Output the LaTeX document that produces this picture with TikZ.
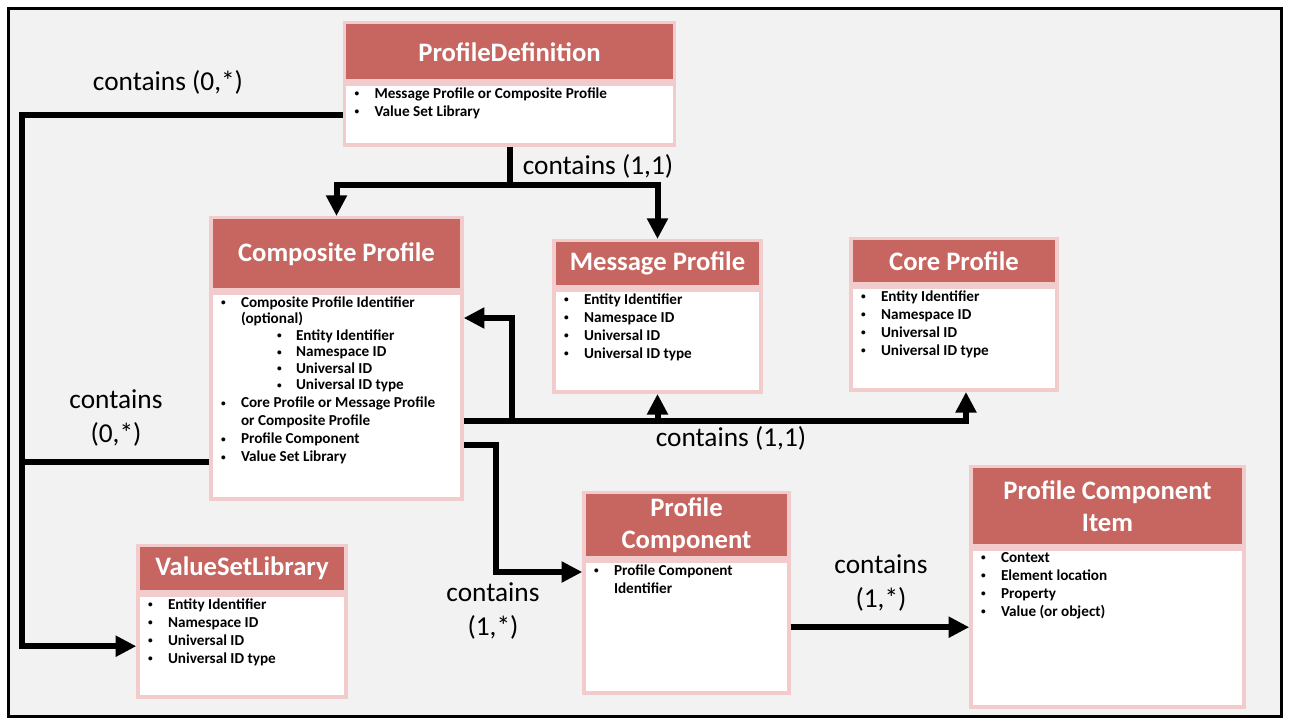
\documentclass[tikz,border=0pt]{standalone}
\usepackage{fontspec}
\setmainfont{Carlito}
\usepackage{enumitem}
\usetikzlibrary{arrows.meta}

\newdimen\unitpx \unitpx=0.75pt
\newcommand{\smallbullet}{\raisebox{0.12em}{\fontsize{7}{7}\selectfont\textbullet}}
\setlist[itemize,1]{label=\smallbullet,leftmargin=30\unitpx,labelwidth=20\unitpx,labelsep=0pt,align=left,nosep}
\setlist[itemize,2]{label=\smallbullet,leftmargin=55\unitpx,labelwidth=19\unitpx,labelsep=0pt,align=left,nosep,before=\fontsize{11.4}{12.4}\selectfont}
% body of a box: width, height (px), items
\newcommand{\boxbody}[3]{\parbox[c][#2\unitpx][t]{#1\unitpx}{\raggedright\vspace*{2.5pt}\begin{itemize}#3\end{itemize}}}

\tikzset{every picture/.style={line width=0.75pt}}

\begin{document}
\begin{tikzpicture}[x=0.75pt,y=0.75pt,yscale=-1,xscale=1,
  hdr/.style={draw={rgb, 255:red, 242; green, 204; blue, 204 }, fill={rgb, 255:red, 199; green, 101; blue, 96 }, line width=2.6pt, text=white, font=\bfseries\fontsize{20}{24.5}\selectfont, align=center, inner sep=0pt, anchor=north},
  bdy/.style={draw={rgb, 255:red, 242; green, 204; blue, 204 }, fill=white, line width=2.6pt, inner sep=0pt, anchor=north, font=\bfseries\fontsize{11.4}{13.5}\selectfont},
  conn/.style={line width=4.5pt},
  arr/.style={conn, -{Triangle[width=15pt,length=15.5pt]}},
  lbl/.style={font=\fontsize{20.5}{25.5}\selectfont, align=center, inner sep=0pt}]
\useasboundingbox (0,0) rectangle (1290,725);

%Shape: Rectangle (frame)
\draw [line width=2.25pt, fill={rgb, 255:red, 242; green, 242; blue, 242 }] (8.5,8.5) rectangle (1281.5,716.5);

%Shape: ProfileDefinition
\node [hdr, minimum width=330*\unitpx, minimum height=58*\unitpx] (pdh) at (509.5,21) {ProfileDefinition};
\node [bdy] (pdb) at (pdh.south) {\boxbody{330}{61}{\item Message Profile or Composite Profile \item Value Set Library}};
%Shape: Composite Profile
\node [hdr, minimum width=251*\unitpx, minimum height=72*\unitpx] (cph) at (336.5,216) {Composite Profile};
\node [bdy] (cpb) at (cph.south) {\boxbody{251}{206}{\item Composite Profile Identifier\newline (optional)
  \begin{itemize}\item Entity Identifier \item Namespace ID \item Universal ID \item Universal ID type\end{itemize}
  \item Core Profile or Message Profile\newline or Composite Profile
  \item Profile Component
  \item Value Set Library}};
%Shape: Message Profile
\node [hdr, minimum width=207*\unitpx, minimum height=46*\unitpx] (mph) at (657.5,239) {Message Profile};
\node [bdy] (mpb) at (mph.south) {\boxbody{207}{102}{\item Entity Identifier \item Namespace ID \item Universal ID \item Universal ID type}};
%Shape: Core Profile
\node [hdr, minimum width=206*\unitpx, minimum height=45*\unitpx] (coreh) at (954,237) {Core Profile};
\node [bdy] (coreb) at (coreh.south) {\boxbody{206}{103}{\item Entity Identifier \item Namespace ID \item Universal ID \item Universal ID type}};
%Shape: ValueSetLibrary
\node [hdr, minimum width=208*\unitpx, minimum height=46*\unitpx] (vslh) at (242,544) {ValueSetLibrary};
\node [bdy] (vslb) at (vslh.south) {\boxbody{208}{102}{\item Entity Identifier \item Namespace ID \item Universal ID \item Universal ID type}};
%Shape: Profile Component
\node [hdr, minimum width=205*\unitpx, minimum height=65*\unitpx] (pch) at (686.5,491) {Profile\\Component};
\node [bdy] (pcb) at (pch.south) {\boxbody{205}{132}{\item Profile Component\newline Identifier}};
%Shape: Profile Component Item
\node [hdr, minimum width=273*\unitpx, minimum height=79*\unitpx] (pcih) at (1107.5,465) {Profile Component\\Item};
\node [bdy] (pcib) at (pcih.south) {\boxbody{273}{158}{\item Context \item Element location \item Property \item Value (or object)}};

% bends
\coordinate (lft) at (22,110);
\coordinate (jt) at (509.5,185);
\coordinate (jd) at (512,421);
\coordinate (je) at (496,572);

%Straight Lines
\draw [arr] (pdb.west) -| (lft |- vslb.west) -- (vslb.west);
\draw [conn] (cpb.west |- 0,462) -- (lft |- 0,462);
\draw [conn] (pdb.south) -- (jt);
\draw [arr] (jt) -| (cph.north);
\draw [arr] (jt) -| (mph.north);
\draw [arr] (cpb.east |- jd) -| (coreb.south -| 966,0);
\draw [arr] (mpb.south |- jd) -- (mpb.south);
\draw [arr] (jd) |- (cpb.east |- 0,318);
\draw [arr] (cpb.east |- 0,445) -| (je) -- (pcb.west |- je);
\draw [arr] (pcb.east) -- (pcib.west |- pcb.east);

% Text Node
\node [lbl] (l1) at (168,82) {contains (0,*)};
% Text Node
\node [lbl] (l2) at (116,418) {contains\\(0,*)};
% Text Node
\node [lbl] (l3) at (598,166) {contains (1,1)};
% Text Node
\node [lbl] (l4) at (731,438) {contains (1,1)};
% Text Node
\node [lbl] (l5) at (493,611) {contains\\(1,*)};
% Text Node
\node [lbl] (l6) at (881,583) {contains\\(1,*)};

\end{tikzpicture}
\end{document}
